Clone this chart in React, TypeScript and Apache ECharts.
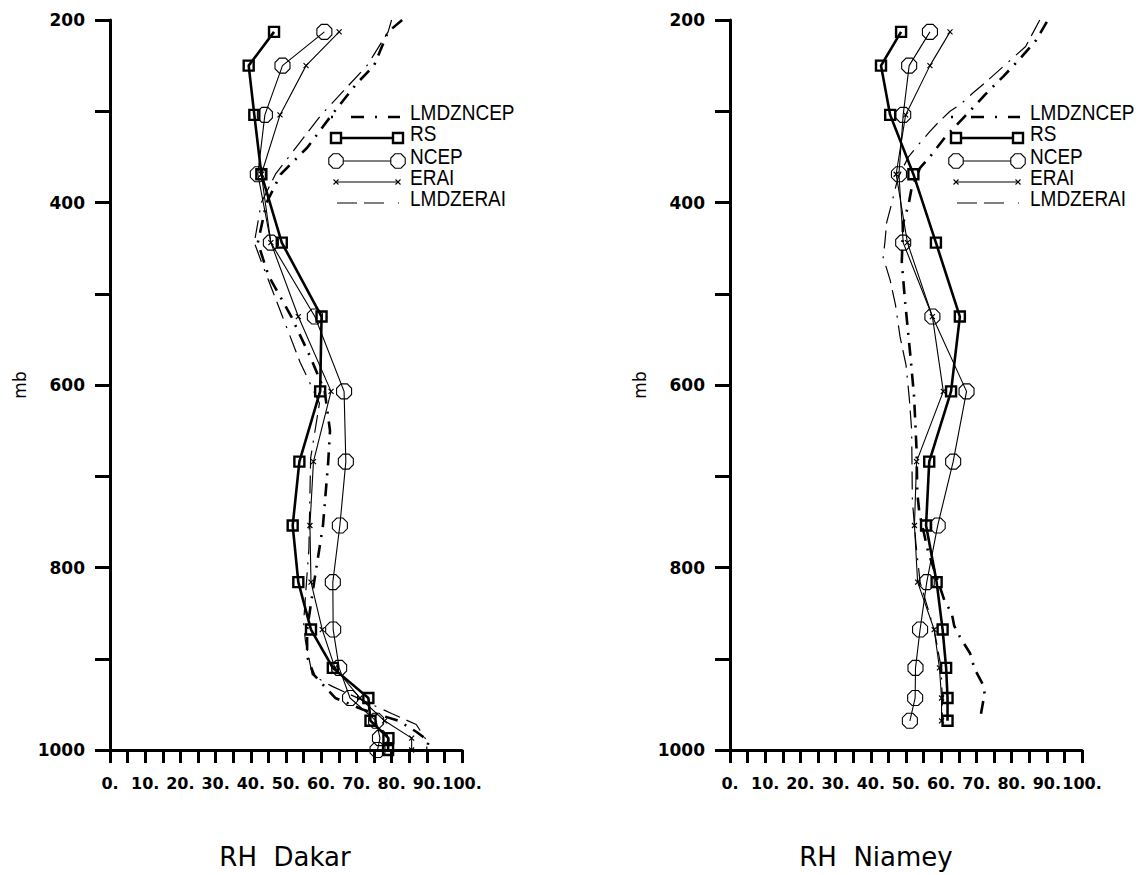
import React, { useEffect, useRef } from 'react';
import * as echarts from 'echarts';

// ---------- Dakar ----------
const dakarObsP = [213, 250, 304, 369, 444, 525, 607, 684, 754, 816, 868, 910, 943, 968, 987, 1000];
const dakarRS = [46.6, 39.4, 41, 43, 48.8, 60.1, 59.7, 53.8, 51.9, 53.5, 57.1, 63.3, 73.4, 74, 79.1, 79];
const dakarNCEP = [60.9, 49, 44, 42, 45.7, 58.2, 66.5, 67, 65.3, 63.3, 63.4, 65.1, 68.2, 75.6, 76.7, 76];
const dakarERAI = [65.1, 55.7, 48.3, 43, 45.7, 53.5, 62.8, 57.8, 56.8, 57.1, 60.3, 63.9, 71, 78, 85.7, 85.7];
const dakarLmdzNcepP = [200, 213, 250, 270, 304, 340, 369, 400, 444, 480, 525, 570, 607, 650, 684, 754, 816, 868, 898, 918, 943, 956, 968, 980, 990, 1000];
const dakarLmdzNcep = [83, 79, 75, 70, 63, 56, 48.5, 44.5, 42, 45, 51.5, 57, 61, 62.5, 62, 60.5, 58, 56, 56, 58, 64, 72, 82, 87, 90.5, 90];
const dakarLmdzEraiP = [200, 213, 250, 304, 369, 400, 444, 470, 525, 575, 620, 680, 780, 860, 880, 918, 930, 960, 972, 990, 1000];
const dakarLmdzErai = [80, 79, 73, 60, 47, 43, 41, 43.5, 49, 54, 59.5, 57, 56.5, 55, 55.5, 57.5, 63, 80, 87, 90, 90];

// ---------- Niamey ----------
const niameyObsP = [213, 250, 304, 369, 444, 525, 607, 684, 754, 816, 868, 910, 943, 968];
const niameyRS = [48.6, 42.9, 45.5, 52.1, 58.5, 65.3, 62.8, 56.6, 55.7, 58.7, 60.4, 61.4, 61.8, 61.8];
const niameyNCEP = [56.8, 50.9, 49.2, 48, 49.2, 57.5, 67.2, 63.4, 59, 55.9, 54, 52.7, 52.6, 51.1];
const niameyERAI = [62.5, 56.8, 49.9, 47.2, 50.4, 57.5, 60.6, 53, 52.4, 53.3, 58, 59.5, 60.1, 60.1];
const niameyLmdzNcepP = [202, 222, 244, 262, 282, 298, 315, 329, 350, 362, 384, 403, 422, 465, 507, 570, 613, 671, 718, 740, 783, 837, 850, 864, 876, 894, 901, 912, 928, 941, 945, 967];
const niameyLmdzNcep = [90, 87, 82, 77.6, 72.4, 68.6, 64.4, 61, 56.8, 54, 51.6, 50.7, 49.2, 48.8, 49.7, 51.3, 52.3, 53, 53.2, 53.8, 56.3, 61, 63, 63.7, 65.3, 68.2, 68.7, 69.6, 71.8, 72.5, 72, 71];
const niameyLmdzEraiP = [200, 229, 238, 267, 280, 293, 300, 313, 322, 339, 350, 373, 400, 422, 444, 460, 485, 512, 547, 578, 613, 649, 685, 726, 773, 816, 868, 910, 945, 967];
const niameyLmdzErai = [88, 84, 81.4, 73, 69, 65.3, 62.5, 59, 56.8, 53, 50.7, 47.7, 46, 44.5, 44, 43.5, 45.5, 47, 48.3, 50, 50.9, 51.6, 51.7, 51.8, 52.8, 54, 58, 60, 60.3, 60.3];

const legendNames = ['LMDZNCEP', 'RS', 'NCEP', 'ERAI', 'LMDZERAI'];
const panelTitles = ['RH  Dakar', 'RH  Niamey'];

const pairs = (ps: number[], vs: number[]) => ps.map((p, i) => [vs[i], p]);

const OCTAGON = 'path://M0.293,0 L0.707,0 L1,0.293 L1,0.707 L0.707,1 L0.293,1 L0,0.707 L0,0.293 Z';
const CROSS = 'path://M0,0 L1,1 M1,0 L0,1';

const DASHDOT_THICK = [13, 8, 2, 8];
const LONG_DASH = [18, 7, 18, 8, 2, 8];

function makeSeries(idx: number, obsP: number[], rs: number[], ncep: number[], erai: number[],
  lnP: number[], ln: number[], leP: number[], le: number[]) {
  const base = { type: 'line', xAxisIndex: idx, yAxisIndex: idx, silent: true };
  return [
    { ...base, name: 'LMDZERAI', data: pairs(leP, le), symbol: 'none',
      lineStyle: { color: '#000', width: 1.2, type: LONG_DASH } },
    { ...base, name: 'LMDZNCEP', data: pairs(lnP, ln), symbol: 'none',
      lineStyle: { color: '#000', width: 2.6, type: DASHDOT_THICK } },
    { ...base, name: 'ERAI', data: pairs(obsP, erai), symbol: CROSS, symbolSize: 5,
      itemStyle: { color: 'none', borderColor: '#000', borderWidth: 1.2 },
      lineStyle: { color: '#000', width: 1.1 } },
    { ...base, name: 'NCEP', data: pairs(obsP, ncep), symbol: OCTAGON, symbolSize: 15,
      itemStyle: { color: 'none', borderColor: '#000', borderWidth: 1.1 },
      lineStyle: { color: '#000', width: 1.1 } },
    { ...base, name: 'RS', data: pairs(obsP, rs), symbol: 'rect', symbolSize: 10,
      itemStyle: { color: 'none', borderColor: '#000', borderWidth: 2.4 },
      lineStyle: { color: '#000', width: 2.6 } },
  ];
}

function octagonPoints(cx: number, cy: number, r: number) {
  const pts: number[][] = [];
  for (let k = 0; k < 8; k++) {
    const a = (Math.PI / 8) + (k * Math.PI) / 4;
    pts.push([cx + r * Math.cos(a), cy + r * Math.sin(a)]);
  }
  return pts;
}

function legendElements(ox: number) {
  const x1 = ox + 336, x2 = ox + 398;
  const ys = [117, 138, 161, 182, 203];
  const els: any[] = [];
  els.push({ type: 'line', shape: { x1: ox + 331, y1: ys[0], x2: ox + 400, y2: ys[0] },
    style: { stroke: '#000', lineWidth: 2.6, lineDash: [2, 18, 13, 11, 2, 11, 13, 11] } });
  els.push({ type: 'line', shape: { x1, y1: ys[1], x2, y2: ys[1] }, style: { stroke: '#000', lineWidth: 2.6 } });
  [x1, x2].forEach((cx) => els.push({ type: 'rect', shape: { x: cx - 5, y: ys[1] - 5, width: 10, height: 10 },
    style: { fill: '#fff', stroke: '#000', lineWidth: 2.4 } }));
  els.push({ type: 'line', shape: { x1, y1: ys[2], x2, y2: ys[2] }, style: { stroke: '#000', lineWidth: 1.1 } });
  [x1, x2].forEach((cx) => els.push({ type: 'polygon', shape: { points: octagonPoints(cx, ys[2], 7.8) },
    style: { fill: '#fff', stroke: '#000', lineWidth: 1.1 } }));
  els.push({ type: 'line', shape: { x1, y1: ys[3], x2, y2: ys[3] }, style: { stroke: '#000', lineWidth: 1.1 } });
  [x1, x2].forEach((cx) => {
    els.push({ type: 'line', shape: { x1: cx - 2.5, y1: ys[3] - 2.5, x2: cx + 2.5, y2: ys[3] + 2.5 }, style: { stroke: '#000', lineWidth: 1.1 } });
    els.push({ type: 'line', shape: { x1: cx - 2.5, y1: ys[3] + 2.5, x2: cx + 2.5, y2: ys[3] - 2.5 }, style: { stroke: '#000', lineWidth: 1.1 } });
  });
  els.push({ type: 'line', shape: { x1: ox + 337, y1: ys[4], x2: ox + 399, y2: ys[4] },
    style: { stroke: '#000', lineWidth: 1.2, lineDash: [20, 7, 20, 14, 1, 20] } });
  legendNames.forEach((n, i) => {
    els.push({ type: 'text', x: ox + 410, y: ys[i] - 5, scaleY: 1.15,
      style: { text: n, fill: '#000', font: '19px "Liberation Sans", Arial, sans-serif', textVerticalAlign: 'middle' } });
  });
  return els;
}

function xAxisCfg(idx: number) {
  return {
    gridIndex: idx, type: 'value', min: 0, max: 100, interval: 5,
    axisLine: { show: true, onZero: false, lineStyle: { color: '#000', width: 3 } },
    axisTick: { show: true, length: 13, lineStyle: { color: '#000', width: 3 } },
    axisLabel: {
      formatter: (v: number) => (v % 10 === 0 ? `${v}.` : ''),
      color: '#000', fontWeight: 'bold', fontSize: 16, fontFamily: '"DejaVu Sans", sans-serif', margin: 25,
    },
    splitLine: { show: false },
  };
}

function yAxisCfg(idx: number) {
  return {
    gridIndex: idx, type: 'value', inverse: true, min: 200, max: 1000, interval: 100,
    axisLine: { show: true, onZero: false, lineStyle: { color: '#000', width: 3 } },
    axisTick: { show: true, length: 15, lineStyle: { color: '#000', width: 3 } },
    axisLabel: {
      formatter: (v: number) => (v % 200 === 0 ? String(v) : ''),
      color: '#000', fontWeight: 'bold', fontSize: 17, fontFamily: '"DejaVu Sans", sans-serif', margin: 25,
    },
    splitLine: { show: false },
    name: 'mb', nameLocation: 'middle', nameGap: 82, nameRotate: 90,
    nameTextStyle: { color: '#000', fontSize: 17, fontFamily: '"DejaVu Sans", sans-serif' },
  };
}

export default function App() {
  const ref = useRef<HTMLDivElement>(null);
  useEffect(() => {
    if (!ref.current) return;
    const chart = echarts.init(ref.current, undefined, { renderer: 'svg' });
    chart.setOption({
      animation: false,
      backgroundColor: '#fff',
      grid: [
        { left: 110, top: 20, width: 352, height: 730 },
        { left: 730, top: 20, width: 352, height: 730 },
      ],
      xAxis: [xAxisCfg(0), xAxisCfg(1)],
      yAxis: [yAxisCfg(0), yAxisCfg(1)],
      series: [
        ...makeSeries(0, dakarObsP, dakarRS, dakarNCEP, dakarERAI, dakarLmdzNcepP, dakarLmdzNcep, dakarLmdzEraiP, dakarLmdzErai),
        ...makeSeries(1, niameyObsP, niameyRS, niameyNCEP, niameyERAI, niameyLmdzNcepP, niameyLmdzNcep, niameyLmdzEraiP, niameyLmdzErai),
      ],
      graphic: [
        ...legendElements(0),
        ...legendElements(620),
        { type: 'text', x: 285, y: 857, style: { text: panelTitles[0], fill: '#000',
          font: '26px "DejaVu Sans", sans-serif', textAlign: 'center', textVerticalAlign: 'middle' } },
        { type: 'text', x: 876, y: 857, style: { text: panelTitles[1], fill: '#000',
          font: '26px "DejaVu Sans", sans-serif', textAlign: 'center', textVerticalAlign: 'middle' } },
      ],
    });
    return () => chart.dispose();
  }, []);
  return <div ref={ref} style={{ position: 'fixed', left: 0, top: 0, width: 1144, height: 875, background: '#fff' }} />;
}
